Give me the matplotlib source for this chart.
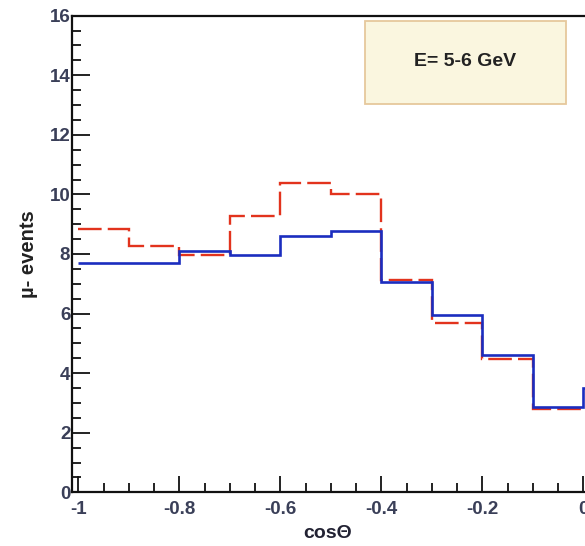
import numpy as np
import matplotlib
matplotlib.use("Agg")
import matplotlib.pyplot as plt
from matplotlib.ticker import MultipleLocator, FixedLocator

# ---- data ----
blue_edges = [-1.0, -0.9, -0.8, -0.7, -0.6, -0.5, -0.4, -0.3, -0.2, -0.1, 0.0, 0.1]
blue_vals = [7.70, 7.70, 8.09, 7.95, 8.60, 8.77, 7.05, 5.96, 4.61, 2.87, 3.5]
red_edges = [-1.0, -0.9, -0.8, -0.7, -0.6, -0.5, -0.4, -0.3, -0.2, -0.1, 0.0]
red_vals = [8.85, 8.28, 7.95, 9.27, 10.39, 10.02, 7.12, 5.70, 4.48, 2.79]
x_ticks = [-1, -0.8, -0.6, -0.4, -0.2, 0]
x_tick_labels = ["-1", "-0.8", "-0.6", "-0.4", "-0.2", "0"]
y_ticks = [0, 2, 4, 6, 8, 10, 12, 14, 16]
label_text = "E= 5-6 GeV"

plt.rcParams['font.family'] = ['Liberation Sans', 'DejaVu Sans']

W, H = 585, 546
fig = plt.figure(figsize=(W / 100, H / 100), dpi=100)

x_lo, x_hi = -1.013, 0.1
px_per_unit = 505.0
left_px, bottom_px, top_px = 71.7, 492.3, 15.7
width_px = (x_hi - x_lo) * px_per_unit
ax = fig.add_axes([left_px / W, (H - bottom_px) / H, width_px / W, (bottom_px - top_px) / H])

ax.stairs(red_vals, red_edges, baseline=None, color='#e2331d', lw=1.7,
          linestyle=(0, (10, 2.6)))
ax.stairs(blue_vals, blue_edges, baseline=None, color='#1b2dbf', lw=1.9)

ax.set_xlim(x_lo, x_hi)
ax.set_ylim(0, 16)

ax.xaxis.set_major_locator(FixedLocator(x_ticks))
ax.set_xticklabels(x_tick_labels)
ax.xaxis.set_minor_locator(MultipleLocator(0.05))
ax.yaxis.set_major_locator(FixedLocator(y_ticks))
ax.yaxis.set_minor_locator(MultipleLocator(0.5))

for s in ax.spines.values():
    s.set_linewidth(1.6)
    s.set_color('#111111')
ax.spines['right'].set_visible(False)

ax.tick_params(axis='both', which='both', direction='in', color='#111111', width=1.3)
ax.tick_params(axis='x', which='major', length=11.5, pad=6)
ax.tick_params(axis='x', which='minor', length=6.5)
ax.tick_params(axis='y', which='major', length=13, pad=1)
ax.tick_params(axis='y', which='minor', length=6.5)
ax.tick_params(axis='both', which='major', labelsize=13.5, labelcolor='#3a3f58')
for lab in ax.get_xticklabels() + ax.get_yticklabels():
    lab.set_fontweight('bold')

ax.set_ylabel("µ- events", fontsize=14.5, fontweight='bold', color='#222222')
ax.yaxis.set_label_coords((28 - left_px) / width_px * width_px / (bottom_px - top_px) * 0 + (28 - left_px) / width_px, 0.5)
ax.set_xlabel("cosΘ", fontsize=14, fontweight='bold', color='#222233')
ax.xaxis.set_label_coords((328 - left_px) / width_px, -(534 - bottom_px) / (bottom_px - top_px))
ax.xaxis.label.set_va('center')
ax.yaxis.label.set_va('center')

# label box
bx0, by0, bx1, by1 = 365, 21, 566, 104
fig.patches.append(plt.Rectangle((bx0 / W, 1 - by1 / H), (bx1 - bx0) / W, (by1 - by0) / H,
                                 transform=fig.transFigure, facecolor='#faf6df',
                                 edgecolor='#e6c89c', lw=1.3, zorder=5))
fig.text((bx0 + bx1) / 2 / W, 1 - 61 / H, label_text, ha='center', va='center',
         fontsize=14, fontweight='bold', color='#222222', zorder=6)

fig.savefig("out.png", dpi=100)
